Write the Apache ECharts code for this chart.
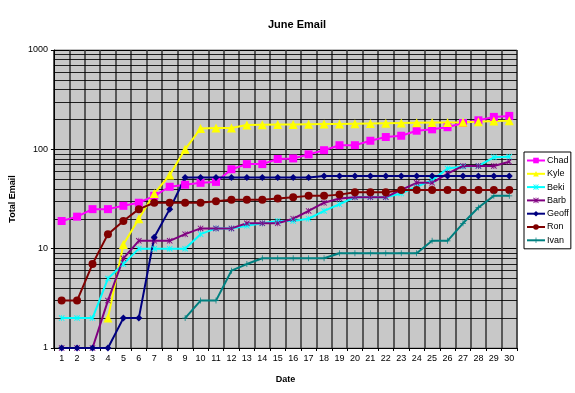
<!DOCTYPE html>
<html>
<head>
<meta charset="utf-8">
<script src="https://cdn.jsdelivr.net/npm/echarts@6/dist/echarts.min.js"></script>
<style>html,body{margin:0;padding:0;background:#fff}#c{width:575px;height:393px}</style>
</head>
<body>
<div id="c"></div>
<script>
var days = [];
for (var i = 1; i <= 30; i++) days.push(String(i));
var seriesNames = ['Chad', 'Kyle', 'Beki', 'Barb', 'Geoff', 'Ron', 'Ivan'];
var chad  = [19,21,25,25,27,29,34,42,44,46,47,63,71,71,80,81,89,98,110,110,122,133,137,154,159,167,184,196,212,217];
var kyle  = [null,null,null,2,11,20,36,55,100,162,164,164,176,177,178,178,179,180,180,181,182,183,184,185,186,186,187,189,193,194];
var beki  = [2,2,2,5,7,10,10,10,10,14,16,16,17,18,19,19,20,24,28,33,33,33,36,42,49,64,67,68,83,84];
var barb  = [1,1,1,3,8,12,12,12,14,16,16,16,18,18,18,20,24,29,32,33,33,33,39,46,46,57,68,68,68,75];
var geoff = [1,1,1,1,2,2,13,25,52,52,52,52,52,52,52,52,52,54,54,54,54,54,54,54,54,54,54,54,54,54];
var ron   = [3,3,7,14,19,25,29,29,29,29,30,31,31,31,32,33,34,34,35,37,37,37,39,39,39,39,39,39,39,39];
var ivan  = [null,null,null,null,null,null,null,null,2,3,3,6,7,8,8,8,8,8,9,9,9,9,9,9,12,12,18,26,34,34];
var minorLines = [2,3,4,5,6,7,8,9,20,30,40,50,60,70,80,90,200,300,400,500,600,700,800,900];

var asterisk = 'path://M0,1L1,0L10,9L9,10Z M9,0L10,1L1,10L0,9Z M4.4,0h1.2v10h-1.2z';
var plus = 'path://M4.4,0h1.2v10h-1.2z M0,4.4h10v1.2h-10z';

var F = 'Liberation Sans, Arial, sans-serif';
function mk(name, data, color, symbol, size) {
  return {
    name: name, type: 'line', data: data, z: 3,
    symbol: symbol, symbolSize: size, showAllSymbol: true,
    lineStyle: { color: color, width: 2 },
    itemStyle: { color: color, borderColor: color, borderWidth: 0 },
    connectNulls: false, animation: false
  };
}
var series = [
  mk('Chad', chad, '#ff00ff', 'rect', 8),
  mk('Kyle', kyle, '#ffff00', 'triangle', 9),
  mk('Beki', beki, '#00ffff', asterisk, 6),
  mk('Barb', barb, '#800080', asterisk, 6),
  mk('Geoff', geoff, '#000080', 'diamond', 7),
  mk('Ron', ron, '#800000', 'circle', 8),
  mk('Ivan', ivan, '#008080', plus, 6),
  {
    name: 'grid', type: 'line', data: [], silent: true, z: 1,
    markLine: {
      silent: true, z: 1, symbol: 'none', animation: false,
      label: { show: false },
      lineStyle: { color: '#000', width: 1, type: 'solid', opacity: 0.85 },
      data: minorLines.map(function (v) { return { yAxis: v }; })
    }
  }
];

var chart = echarts.init(document.getElementById('c'), null, { renderer: 'canvas' });
chart.setOption({
  animation: false,
  backgroundColor: '#fff',
  textStyle: { fontFamily: F },
  title: {
    text: 'June Email', left: 292, top: 14, textAlign: 'center',
    textStyle: { fontFamily: F, fontSize: 11, fontWeight: 'bold', color: '#000' }
  },
  legend: {
    data: seriesNames, orient: 'vertical', left: 524, top: 152,
    backgroundColor: '#fff', borderColor: '#000', borderWidth: 1,
    padding: [3, 2, 3, 2], itemWidth: 18, itemHeight: 7, itemGap: 2.3,
    textStyle: { fontFamily: F, fontSize: 9, lineHeight: 11, color: '#000', padding: [0, 0, 0, -3] }
  },
  grid: {
    left: 51, right: 58, top: 50, bottom: 45, show: true,
    backgroundColor: '#c8c8c8', borderColor: '#808080', borderWidth: 1
  },
  xAxis: {
    type: 'category', data: days, boundaryGap: true,
    name: 'Date', nameLocation: 'middle', nameGap: 27,
    nameTextStyle: { fontFamily: F, fontSize: 9, fontWeight: 'bold', color: '#000' },
    axisLine: { lineStyle: { color: '#000', width: 1 } },
    axisTick: { show: true, length: 3, lineStyle: { color: '#000' } },
    axisLabel: { fontFamily: F, fontSize: 9, color: '#000', margin: 6, interval: 0 },
    splitLine: { show: true, interval: 0, lineStyle: { color: '#333', width: 1.5 } }
  },
  yAxis: {
    type: 'log', logBase: 10, min: 1, max: 1000,
    name: 'Total Email', nameLocation: 'middle', nameGap: 34,
    nameTextStyle: { fontFamily: F, fontSize: 9, fontWeight: 'bold', color: '#000' },
    axisLine: { show: true, lineStyle: { color: '#000', width: 1 } },
    axisTick: { show: true, length: 3, lineStyle: { color: '#000' } },
    axisLabel: { fontFamily: F, fontSize: 9, color: '#000', margin: 6,
      formatter: function (v) { return String(Math.round(v)); } },
    splitLine: { show: true, lineStyle: { color: '#000', width: 1 } }
  },
  series: series
});
</script>
</body>
</html>
